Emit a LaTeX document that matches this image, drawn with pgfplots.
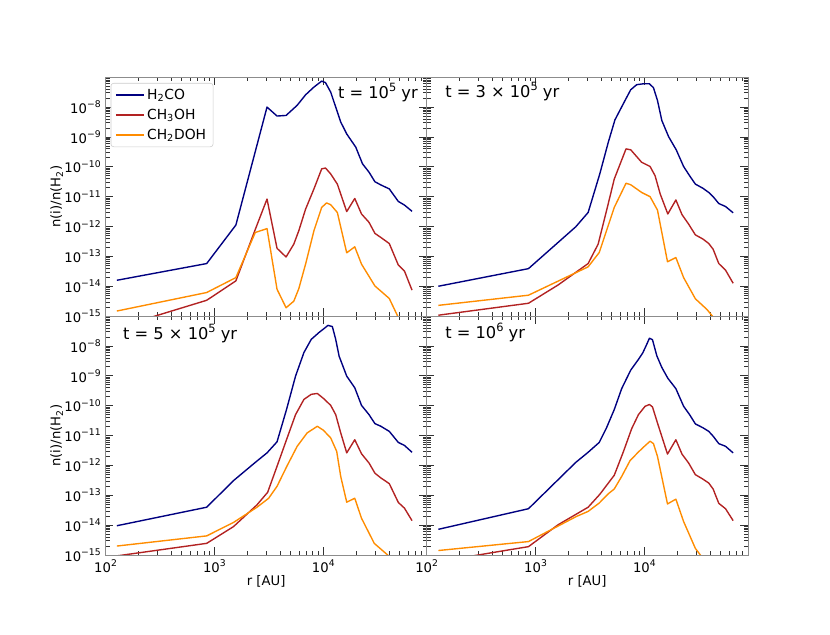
\documentclass[border=0pt]{standalone}
\usepackage{fontspec}
\setmainfont{DejaVu Sans}
\usepackage{pgfplots}
\pgfplotsset{compat=1.18}
\definecolor{cblue}{HTML}{000080}
\definecolor{cred}{HTML}{B22222}
\definecolor{corange}{HTML}{FF8C00}
\newcommand{\sups}[1]{\raisebox{0.43em}{\scalebox{0.7}{#1}}}
\pgfplotsset{
    scale only axis, width=231.2pt, height=172pt,
    xmin=100, xmax=89000, ymin=1e-15, ymax=1e-7,
    xtick={100,1000,10000},
    ytick={1e-15,1e-14,1e-13,1e-12,1e-11,1e-10,1e-9,1e-8},
    minor xtick={200,300,400,500,600,700,800,900,2000,3000,4000,5000,6000,7000,8000,9000,20000,30000,40000,50000,60000,70000,80000},
    minor ytick={2e-15,3e-15,4e-15,5e-15,6e-15,7e-15,8e-15,9e-15,
                 2e-14,3e-14,4e-14,5e-14,6e-14,7e-14,8e-14,9e-14,
                 2e-13,3e-13,4e-13,5e-13,6e-13,7e-13,8e-13,9e-13,
                 2e-12,3e-12,4e-12,5e-12,6e-12,7e-12,8e-12,9e-12,
                 2e-11,3e-11,4e-11,5e-11,6e-11,7e-11,8e-11,9e-11,
                 2e-10,3e-10,4e-10,5e-10,6e-10,7e-10,8e-10,9e-10,
                 2e-9,3e-9,4e-9,5e-9,6e-9,7e-9,8e-9,9e-9,
                 2e-8,3e-8,4e-8,5e-8,6e-8,7e-8,8e-8,9e-8},
    tick align=inside, tick pos=both,
    axis line style={black!45},
    every tick/.append style={black!80, line width=0.5pt},
    major tick length=5.5pt, minor tick length=3pt,
    every tick label/.append style={font=\fontsize{9.5}{11}\selectfont},
    every axis label/.append style={font=\fontsize{9.5}{11}\selectfont},
    every axis y label/.style={at={(axis description cs:-0.152,0.5)}, rotate=90, anchor=center},
    every axis x label/.style={at={(axis description cs:0.5,-0.111)}, anchor=center},
    every axis plot/.append style={line width=1pt, line join=round},
    legend image code/.code={\draw[#1] (0pt,0pt) -- (20pt,0pt);},
}
\tikzset{ttl/.style={inner sep=0pt, font=\fontsize{11.7}{14}\selectfont}}
\begin{document}
\begin{tikzpicture}
\path[use as bounding box] (0,0) rectangle (597.6pt,457.2pt);
% ---------- top left: t = 1e5 yr
\begin{loglogaxis}[at={(76pt,229.6pt)}, anchor=south west,
  yticklabels={10\sups{−15},10\sups{−14},10\sups{−13},10\sups{−12},10\sups{−11},10\sups{−10},10\sups{−9},10\sups{−8}},
  ylabel={n(i)/n(H\textsubscript{2})}, xticklabels={},
  legend style={at={(0.016,0.976)}, anchor=north west,
    draw=black!20, rounded corners=2pt, fill=white, font=\fontsize{10}{12}\selectfont,
    row sep=1.5pt, inner xsep=3pt, inner ysep=2pt},
  legend cell align=left]
\addplot[cblue] coordinates {(127,1.585e-14) (849,5.754e-14) (1574,1.122e-12) (3041,1e-8) (3758,5.012e-9) (4550,5.248e-9) (5754,1.148e-8) (6871,2.570e-8) (8204,4.677e-8) (9661,7.413e-8) (10471,6.607e-8) (11695,3.162e-8) (13002,1e-8) (14454,3.162e-9) (16406,1.259e-9) (19861,4.571e-10) (22909,1.259e-10) (26303,6.607e-11) (29785,3.162e-11) (33884,2.455e-11) (40365,1.820e-11) (48865,6.918e-12) (55590,5.248e-12) (65313,3.236e-12)};
\addlegendentry{H\textsubscript{2}CO}
\addplot[cred] coordinates {(127,4.07e-16) (849,3.388e-15) (1574,1.514e-14) (2371,7.943e-13) (3041,8.318e-12) (3758,1.862e-13) (4550,9.550e-14) (5358,2.570e-13) (5957,7.244e-13) (6871,3.802e-12) (8204,1.820e-11) (9661,8.511e-11) (10471,9.120e-11) (11695,5.754e-11) (13459,2.630e-11) (16406,3.162e-12) (19454,8.710e-12) (22439,2.630e-12) (26303,1.380e-12) (29785,5.888e-13) (33884,4.266e-13) (40365,2.692e-13) (48865,5.129e-14) (55590,3.236e-14) (65313,7.413e-15)};
\addlegendentry{CH\textsubscript{3}OH}
\addplot[corange] coordinates {(127,1.479e-15) (849,6.166e-15) (1574,1.950e-14) (2371,6.310e-13) (3041,8.511e-13) (3758,7.943e-15) (4550,1.905e-15) (5358,3.162e-15) (5957,8.318e-15) (6871,5.495e-14) (8204,7.244e-13) (9661,4.365e-12) (10715,6.166e-12) (11695,5.370e-12) (13459,2.951e-12) (16406,1.318e-13) (19454,2.089e-13) (22439,5.495e-14) (29785,1.023e-14) (40365,3.890e-15) (48195,1e-15) (55590,2.512e-16)};
\addlegendentry{CH\textsubscript{2}DOH}
\node[ttl, anchor=base east] at (rel axis cs:0.973,0.912) {t = 10\sups{5} yr};
\end{loglogaxis}
% ---------- top right: t = 3e5 yr
\begin{loglogaxis}[at={(307.2pt,229.6pt)}, anchor=south west, xticklabels={}, yticklabels={}]
\addplot[cblue] coordinates {(128,1e-14) (861,3.890e-14) (2339,9.772e-13) (3041,2.951e-12) (3890,5.754e-11) (4656,6.607e-10) (5358,3.715e-9) (6397,1.288e-8) (7482,3.802e-8) (8492,5.623e-8) (9795,6.026e-8) (11117,6.026e-8) (12106,4.467e-8) (13183,1.660e-8) (14454,3.548e-9) (16672,1.023e-9) (19588,3.715e-10) (22909,1.023e-10) (26002,5.012e-11) (29376,2.630e-11) (34514,1.905e-11) (38994,1.380e-11) (42756,1e-11) (48195,5.888e-12) (55590,4.677e-12) (65313,2.884e-12)};
\addplot[cred] coordinates {(128,1.072e-15) (861,2.692e-15) (1607,1.096e-14) (3041,5.754e-14) (3758,2.570e-13) (4487,3.388e-12) (5284,3.890e-11) (6776,3.981e-10) (7482,3.715e-10) (9441,1.413e-10) (11272,1.023e-10) (12531,5.012e-11) (13964,1.230e-11) (16406,2.630e-12) (19454,7.762e-12) (22131,2.512e-12) (25468,1.202e-12) (29376,5.248e-13) (34514,3.802e-13) (38994,2.692e-13) (42756,1.738e-13) (48195,5.754e-14) (55590,3.467e-14) (65313,1.259e-14)};
\addplot[corange] coordinates {(128,2.291e-15) (861,5.012e-15) (3041,4.467e-14) (3846,1.349e-13) (4487,7.244e-13) (5284,4.365e-12) (6776,2.818e-11) (7482,2.512e-11) (9441,1.380e-11) (11272,1e-11) (13183,3.548e-12) (16293,6.607e-14) (19454,9.120e-14) (22909,1.950e-14) (29376,3.802e-15) (37584,1.660e-15) (42756,9.333e-16) (48195,4.074e-16)};
\node[ttl, anchor=base west] at (rel axis cs:0.057,0.915) {t = 3 × 10\sups{5} yr};
\end{loglogaxis}
% ---------- bottom left: t = 5e5 yr
\begin{loglogaxis}[at={(76pt,57.6pt)}, anchor=south west,
  yticklabels={10\sups{−15},10\sups{−14},10\sups{−13},10\sups{−12},10\sups{−11},10\sups{−10},10\sups{−9},10\sups{−8}},
  ylabel={n(i)/n(H\textsubscript{2})},
  xticklabels={10\sups{2},10\sups{3},10\sups{4}}, xlabel={r [AU]}]
\addplot[cblue] coordinates {(127,9.550e-15) (849,3.981e-14) (1496,3.090e-13) (2371,1.259e-12) (3041,2.630e-12) (3758,6.166e-12) (4592,7.413e-11) (5559,9.772e-10) (6637,6.026e-9) (7745,1.660e-8) (9120,2.818e-8) (10139,3.802e-8) (11041,4.898e-8) (12106,4.467e-8) (13002,1.660e-8) (13964,4.571e-9) (16406,9.772e-10) (19454,3.981e-10) (22439,1.023e-10) (26303,5.012e-11) (29785,2.512e-11) (33806,2.042e-11) (40365,1.380e-11) (48865,5.888e-12) (55590,4.677e-12) (65313,2.754e-12)};
\addplot[cred] coordinates {(127,9.333e-16) (849,2.455e-15) (1496,8.913e-15) (2460,4.786e-14) (3083,1.259e-13) (3758,9.333e-13) (4592,7.244e-12) (5559,5.012e-11) (6637,1.622e-10) (7745,2.399e-10) (8810,2.570e-10) (10139,1.698e-10) (11695,1.023e-10) (13002,5.012e-11) (14454,1.230e-11) (16406,2.630e-12) (19454,7.244e-12) (22439,2.455e-12) (26303,1.202e-12) (29785,5.495e-13) (33806,3.802e-13) (40365,2.455e-13) (48865,5.754e-14) (55590,3.715e-14) (65313,1.413e-14)};
\addplot[corange] coordinates {(127,1.995e-15) (849,4.365e-15) (1496,1.230e-14) (2460,3.981e-14) (3148,7.943e-14) (3758,1.995e-13) (4624,9.333e-13) (5754,4.365e-12) (7112,1.230e-11) (8810,2.042e-11) (10000,1.514e-11) (11695,8.318e-12) (13274,2.951e-12) (14454,4.266e-13) (16406,5.888e-14) (19454,7.943e-14) (22439,1.698e-14) (29376,2.455e-15) (38994,1e-15) (48195,4.074e-16)};
\node[ttl, anchor=base west] at (rel axis cs:0.054,0.904) {t = 5 × 10\sups{5} yr};
\end{loglogaxis}
% ---------- bottom right: t = 1e6 yr
\begin{loglogaxis}[at={(307.2pt,57.6pt)}, anchor=south west, yticklabels={},
  xticklabels={10\sups{2},10\sups{3},10\sups{4}}, xlabel={r [AU]}]
\addplot[cblue] coordinates {(128,7.244e-15) (861,3.548e-14) (2339,1.259e-12) (3041,2.754e-12) (3846,5.888e-12) (4487,1.820e-11) (5284,7.413e-11) (6180,3.715e-10) (7482,1.549e-9) (8810,3.548e-9) (9661,5.888e-9) (10520,1.148e-8) (11117,1.820e-8) (11858,1.622e-8) (13002,4.677e-9) (14454,1.905e-9) (16406,8.318e-10) (19454,3.715e-10) (22909,9.550e-11) (26002,5.012e-11) (29376,2.455e-11) (34514,1.820e-11) (38994,1.380e-11) (42756,9.550e-12) (48195,5.370e-12) (55590,4.365e-12) (65313,2.630e-12)};
\addplot[cred] coordinates {(128,6.026e-16) (861,1.905e-15) (1607,1.023e-14) (3041,3.981e-14) (3890,1.072e-13) (5284,4.677e-13) (6397,2.818e-12) (7638,1.698e-11) (8810,5.012e-11) (10139,9.550e-11) (11117,1.096e-10) (11858,9.120e-11) (13183,2.630e-11) (16293,2.399e-12) (19454,7.244e-12) (22131,2.399e-12) (25468,1.202e-12) (29376,4.898e-13) (34514,3.467e-13) (38994,2.570e-13) (42756,1.622e-13) (48195,5.370e-14) (55590,3.548e-14) (65313,1.413e-14)};
\addplot[corange] coordinates {(128,1.413e-15) (861,2.818e-15) (2371,1.950e-14) (3041,2.884e-14) (3846,5.495e-14) (4656,1.122e-13) (5284,1.622e-13) (6180,4.266e-13) (7379,1.445e-12) (8810,2.818e-12) (10139,4.571e-12) (11272,6.457e-12) (12106,5.370e-12) (13183,1.995e-12) (16293,5.129e-14) (19454,7.413e-14) (22909,1.318e-14) (29376,1.660e-15) (32659,1e-15) (37584,4.571e-16)};
\node[ttl, anchor=base west] at (rel axis cs:0.057,0.908) {t = 10\sups{6} yr};
\end{loglogaxis}
\end{tikzpicture}
\end{document}
